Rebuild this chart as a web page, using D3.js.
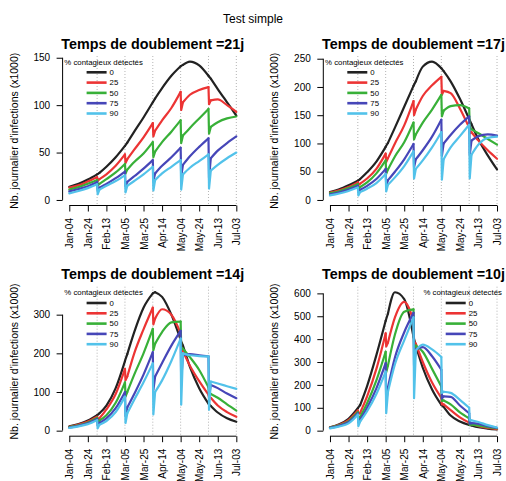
<!DOCTYPE html>
<html>
<head>
<meta charset="utf-8">
<script src="https://cdn.jsdelivr.net/npm/d3@7"></script>
<style>
  body { margin: 0; background: #fff; }
  svg { font-family: "Liberation Sans", Arial, Helvetica, sans-serif; }
</style>
</head>
<body>
<script>
// days since Jan-04; each test campaign makes a sharp dip (pre / min / post)
const dayGrid = [0, 10, 20, 30, 30.6, 32.5, 40, 50, 60, 60.6, 62.5, 70, 80, 90, 90.6, 92.5,
                 100, 110, 120, 120.6, 122.5, 130, 140, 150, 150.6, 152.5, 160, 170, 180];
const dropDays = [30, 60, 90, 120, 150];
const vLineDays = [30, 60, 90, 120, 150, 180];
const tickDays = [0, 20, 40, 60, 80, 100, 120, 140, 160, 180];
const tickLabels = ["Jan-04", "Jan-24", "Feb-13", "Mar-05", "Mar-25", "Apr-14",
                    "May-04", "May-24", "Jun-13", "Jul-03"];
const pctLabels = ["0", "25", "50", "75", "90"];
const doublingTimes = [21, 17, 14, 10];

const yTicks21 = [0, 50, 100, 150];
const yTicks17 = [0, 50, 100, 150, 200, 250];
const yTicks14 = [0, 100, 200, 300];
const yTicks10 = [0, 100, 200, 300, 400, 500, 600];

// daily infections (x1000)
const black21 = [14, 17, 21.5, 27, 27.3, 28.5, 35, 45, 57, 57.8, 60.5, 72, 87, 103, 104, 107, 118, 131, 141, 141.4, 142.5, 146, 142, 131, 130.3, 128, 117, 103, 89];
const red21   = [13, 15.5, 19.5, 24, 20, 22, 27, 36, 48, 39, 43, 53, 66, 81, 67, 73, 84, 97, 114, 95, 103, 111, 116, 119, 101, 105, 106, 100, 93];
const green21 = [11, 13.5, 17, 21, 15, 17, 22, 29, 38, 28, 32, 40, 49, 61, 45, 51, 61, 72, 84, 60, 68, 76, 86, 96, 70, 77, 82, 86, 88];
const blue21  = [9, 11.5, 14.5, 19, 10, 13, 17, 23, 30, 14, 19, 25, 33, 42, 20, 28, 36, 45, 55, 25, 37, 46, 56, 65, 23, 44, 52, 60, 67];
const cyan21  = [7, 9.5, 12.5, 16.5, 6, 11, 15, 20, 26, 8, 15, 20, 27, 35, 10, 21, 28, 35, 42, 11, 27, 34, 41, 48, 12, 31, 37, 44, 50];

const black17 = [14, 19, 26, 34, 34.5, 37, 49, 68, 94, 96, 101, 128, 165, 202, 204, 210, 236, 245, 233, 232, 228, 210, 179, 143, 141, 134, 107, 79, 54];
const red17   = [13, 17, 23, 31, 26, 29, 38, 55, 82, 67, 74, 100, 132, 175, 150, 160, 184, 203, 218, 186, 193, 189, 162, 128, 118, 120, 105, 88, 73];
const green17 = [12, 15.5, 21, 28, 20, 23, 31, 47, 70, 46, 54, 77, 102, 137, 107, 116, 137, 160, 186, 148, 158, 166, 168, 162, 130, 125, 118, 108, 98];
const blue17  = [10, 13.5, 18.5, 25, 14, 18, 25, 37, 55, 25, 35, 50, 72, 99, 58, 72, 88, 112, 142, 78, 100, 115, 133, 148, 80, 105, 113, 116, 114];
const cyan17  = [8, 11.5, 16, 22, 8, 14, 20, 30, 46, 15, 27, 40, 60, 86, 38, 55, 70, 93, 120, 36, 72, 93, 113, 133, 38, 80, 98, 110, 112];

const black14 = [11, 17, 26, 40, 41, 45, 65, 110, 180, 185, 198, 255, 318, 355, 356, 358, 346, 300, 235, 231, 220, 165, 110, 70, 68.5, 64, 47, 32, 23];
const red14   = [10, 15.5, 23.5, 36, 29, 32, 55, 95, 160, 130, 140, 200, 262, 318, 275, 290, 314, 300, 252, 210, 205, 168, 128, 93, 85, 85, 65, 48, 36];
const green14 = [9, 14, 21, 33, 22, 26, 40, 72, 125, 88, 100, 145, 200, 263, 208, 225, 255, 280, 282, 215, 212, 190, 157, 112, 96, 95, 85, 68, 52];
const blue14  = [8, 12.5, 19, 30, 13, 20, 32, 58, 100, 38, 60, 95, 145, 203, 105, 140, 175, 220, 258, 130, 195, 198, 195, 192, 88, 118, 110, 96, 84];
const cyan14  = [7, 11, 17, 27, 6, 15, 25, 48, 88, 20, 45, 80, 125, 174, 42, 100, 130, 180, 238, 67, 200, 195, 193, 192, 54, 127, 122, 115, 108];

const black10 = [15, 28, 52, 98, 102, 112, 195, 330, 480, 488, 512, 605, 575, 410, 400, 372, 275, 180, 113, 110, 104, 66, 40, 25, 24.5, 23, 15, 9, 5];
const red10   = [14, 26, 46, 88, 72, 78, 150, 270, 425, 368, 385, 495, 563, 480, 390, 380, 300, 210, 143, 115, 115, 90, 58, 35, 28, 28, 20, 12, 7];
const green10 = [13, 23, 41, 80, 52, 60, 120, 220, 345, 255, 285, 420, 520, 530, 360, 372, 345, 270, 193, 130, 132, 115, 80, 54, 25, 27, 22, 15, 10];
const blue10  = [12, 21, 37, 75, 35, 48, 100, 185, 295, 120, 190, 320, 430, 515, 285, 355, 365, 325, 266, 140, 150, 148, 110, 76, 30, 33, 30, 20, 12];
const cyan10  = [10, 18, 32, 70, 20, 40, 85, 160, 258, 76, 170, 290, 395, 495, 142, 350, 376, 355, 322, 165, 170, 165, 135, 100, 45, 45, 38, 24, 14];

const colors = ["#222222", "#ec3434", "#38b038", "#4646b8", "#52c2ea"];

const panels = [
  { dt: doublingTimes[0], series: [black21, red21, green21, blue21, cyan21], yTicks: yTicks21, legendRight: false },
  { dt: doublingTimes[1], series: [black17, red17, green17, blue17, cyan17], yTicks: yTicks17, legendRight: false },
  { dt: doublingTimes[2], series: [black14, red14, green14, blue14, cyan14], yTicks: yTicks14, legendRight: false },
  { dt: doublingTimes[3], series: [black10, red10, green10, blue10, cyan10], yTicks: yTicks10, legendRight: true }
];

const width = 506, height = 481;
const panelW = 180.4, panelH = 149.5;
const colLeft = [62.6, 323.3], rowTop = [56, 286.7];
const fontFam = "Liberation Sans, Arial, Helvetica, sans-serif";

let svg = d3.select("body").append("svg")
    .attr("width", width)
    .attr("height", height);

svg.append("text")
  .attr("x", 253).attr("y", 23)
  .attr("text-anchor", "middle")
  .style("font-size", "12px")
  .text("Test simple");

const cutIdx = dropDays.map(d => dayGrid.indexOf(d));

// smooth stretches between campaigns, straight pieces for the dips
function splitSeries(vals) {
  let pts = dayGrid.map((d, i) => [d, vals[i]]);
  let out = [], start = 0;
  cutIdx.forEach(k => {
    out.push({ pts: pts.slice(start, k + 1), smooth: true });
    out.push({ pts: pts.slice(k, k + 3), smooth: false });
    start = k + 2;
  });
  out.push({ pts: pts.slice(start), smooth: true });
  return out;
}

panels.forEach((p, i) => {
  let left = colLeft[i % 2], top = rowTop[Math.floor(i / 2)];
  let g = svg.append("g");

  let x = d3.scaleLinear().domain([-7.2, 187.2]).range([left, left + panelW]);
  let yMax = d3.max(p.series, s => d3.max(s));
  let y = d3.scaleLinear().domain([-0.04 * yMax, 1.04 * yMax]).range([top + panelH, top]);

  g.selectAll("line.vl")
    .data(vLineDays)
    .enter().append("line")
    .attr("x1", d => x(d)).attr("x2", d => x(d))
    .attr("y1", top).attr("y2", top + panelH)
    .attr("stroke", "#b4b4b4")
    .attr("stroke-width", 1)
    .attr("stroke-dasharray", "1,2");

  let smoothLine = d3.line().x(d => x(d[0])).y(d => y(d[1])).curve(d3.curveMonotoneX);
  let sharpLine = d3.line().x(d => x(d[0])).y(d => y(d[1]));

  p.series.forEach((s, j) => {
    g.append("g")
      .selectAll("path")
      .data(splitSeries(s))
      .enter().append("path")
      .attr("d", d => (d.smooth ? smoothLine : sharpLine)(d.pts))
      .attr("fill", "none")
      .attr("stroke", colors[j])
      .attr("stroke-width", 2.2)
      .attr("stroke-linecap", "round")
      .attr("stroke-linejoin", "round");
  });

  // y axis, line only between first and last tick (R style)
  let yAxis = d3.axisLeft(y).tickValues(p.yTicks).tickSize(6).tickPadding(6.5).tickSizeOuter(0);
  let ya = g.append("g").attr("transform", `translate(${left},0)`).call(yAxis);
  ya.attr("font-family", fontFam).attr("font-size", 10);
  ya.select(".domain").remove();
  ya.append("line")
    .attr("y1", y(p.yTicks[0])).attr("y2", y(p.yTicks[p.yTicks.length - 1]))
    .attr("stroke", "#000");
  ya.selectAll(".tick line").attr("stroke", "#000");
  ya.selectAll(".tick text").attr("fill", "#000");

  let xAxis = d3.axisBottom(x).tickValues(tickDays)
      .tickFormat((d, k) => tickLabels[k])
      .tickSize(6).tickSizeOuter(0);
  let xa = g.append("g").attr("transform", `translate(0,${top + panelH})`).call(xAxis);
  xa.attr("font-family", fontFam).attr("font-size", 10);
  xa.select(".domain").remove();
  xa.append("line")
    .attr("x1", x(tickDays[0])).attr("x2", x(tickDays[tickDays.length - 1]))
    .attr("stroke", "#000");
  xa.selectAll(".tick line").attr("stroke", "#000");
  xa.selectAll(".tick text")
    .attr("fill", "#000")
    .attr("transform", "rotate(-90)")
    .attr("text-anchor", "end")
    .attr("x", -12.5).attr("y", 0)
    .attr("dy", "0.35em");

  g.append("text")
    .attr("transform", `translate(${left - 48.5},${top + panelH / 2}) rotate(-90)`)
    .attr("text-anchor", "middle")
    .attr("dy", "0.35em")
    .style("font-size", "10.5px")
    .text("Nb. journalier d'infections (x1000)");

  g.append("text")
    .attr("x", left + panelW / 2).attr("y", top - 7.5)
    .attr("text-anchor", "middle")
    .style("font-size", "14.3px")
    .style("font-weight", "bold")
    .text("Temps de doublement =" + p.dt + "j");

  // legend
  let boxLeft = p.legendRight ? left + panelW - 82 : left;
  let lg = g.append("g").style("font-size", "7.8px");
  lg.append("text")
    .attr("x", boxLeft + 41).attr("y", top + 6)
    .attr("dy", "0.35em")
    .attr("text-anchor", "middle")
    .text("% contagieux détectés");
  let rows = lg.selectAll("g.row")
    .data(pctLabels)
    .enter().append("g")
    .attr("transform", (d, j) => `translate(0,${top + 16.3 + 10.3 * j})`);
  rows.append("line")
    .attr("x1", boxLeft + 24).attr("x2", boxLeft + 44)
    .attr("stroke", (d, j) => colors[j])
    .attr("stroke-width", 2.6);
  rows.append("text")
    .attr("x", boxLeft + 47)
    .attr("dy", "0.35em")
    .text(d => d);
});
</script>
</body>
</html>
